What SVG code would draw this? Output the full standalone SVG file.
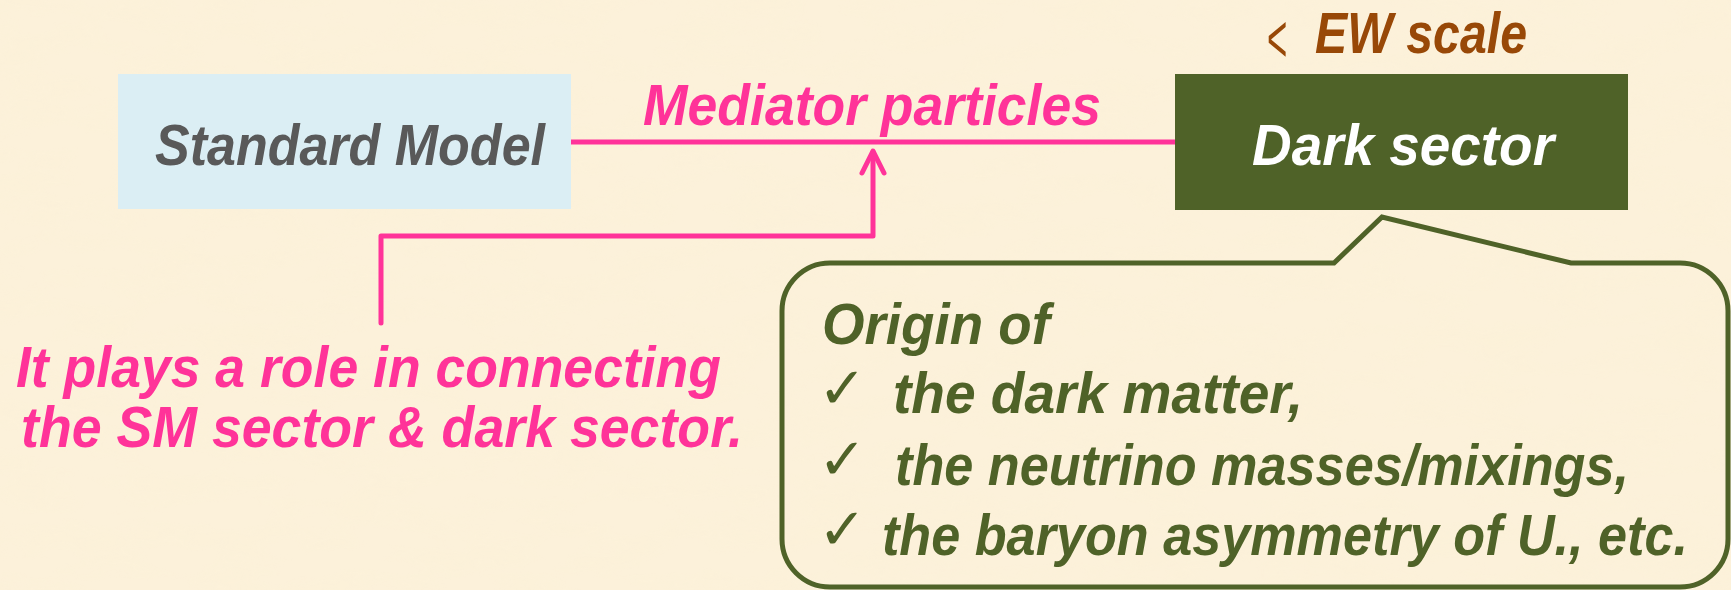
<svg xmlns="http://www.w3.org/2000/svg" width="1731" height="590" viewBox="0 0 1731 590">
  <defs>
    <filter id="paper" x="0" y="0" width="100%" height="100%">
      <feTurbulence type="fractalNoise" baseFrequency="0.015 0.04" numOctaves="3" seed="7"/>
      <feColorMatrix values="0 0 0 0 0.95  0 0 0 0 0.88  0 0 0 0 0.62  0.5 0 0 0 -0.2"/>
    </filter>
    <style>
      .t { font-family: "Liberation Sans", Arial, sans-serif; font-weight: bold; font-style: italic; font-size: 58px; }
      .pink { fill: #FF3399; }
      .green { fill: #4F6228; }
      .chk { font-family: "DejaVu Sans", sans-serif; font-size: 58px; fill: #4F6228; }
      .conn { fill: none; stroke: #FF3399; stroke-width: 5; stroke-linecap: round; stroke-linejoin: round; }
    </style>
  </defs>

  <rect x="0" y="0" width="1731" height="590" fill="#FCF1DA"/>
  <rect x="0" y="0" width="1731" height="590" filter="url(#paper)" opacity="0.45"/>

  <g id="standard-model">
    <rect x="118" y="74" width="453" height="135" fill="#DBEEF4"/>
    <text class="t" x="155" y="165" fill="#595959" font-size="60" textLength="390" lengthAdjust="spacingAndGlyphs">Standard Model</text>
  </g>

  <g id="dark-sector">
    <rect x="1175" y="74" width="453" height="136" fill="#4F6228"/>
    <text class="t" x="1252" y="165" fill="#FFFFFF" font-size="60" textLength="302" lengthAdjust="spacingAndGlyphs">Dark sector</text>
  </g>

  <g id="ew-scale">
    <text x="0" y="0" transform="translate(1267,62) scale(0.6,1.18)" font-family="Liberation Sans, sans-serif" font-size="58" fill="#984807">&lt;</text>
    <text class="t" x="1315" y="53" fill="#984807" font-size="58" textLength="212" lengthAdjust="spacingAndGlyphs">EW scale</text>
  </g>

  <g id="mediator-label">
    <text class="t pink" x="643" y="125" font-size="60" textLength="458" lengthAdjust="spacingAndGlyphs">Mediator particles</text>
  </g>

  <g id="connectors">
    <line x1="571" y1="142" x2="1175" y2="142" stroke="#FF3399" stroke-width="5"/>
    <path class="conn" d="M381,323 L381,236 L873,236 L873,152"/>
    <path class="conn" d="M862,173 L873,151 L884,173"/>
  </g>

  <g id="role-note">
    <text class="t pink" x="16" y="387" font-size="60" textLength="705" lengthAdjust="spacingAndGlyphs">It plays a role in connecting</text>
    <text class="t pink" x="21" y="447" font-size="60" textLength="722" lengthAdjust="spacingAndGlyphs">the SM sector &amp; dark sector.</text>
  </g>

  <g id="origin-callout">
    <path d="M830,263 L1334,263 L1382,217 L1571,263 L1680,263 A48,48 0 0 1 1728,311 L1728,539 A48,48 0 0 1 1680,587 L830,587 A48,48 0 0 1 782,539 L782,311 A48,48 0 0 1 830,263 Z" fill="none" stroke="#4F6228" stroke-width="5" stroke-linejoin="miter"/>
    <text class="t green" x="822" y="344" font-size="60" textLength="228" lengthAdjust="spacingAndGlyphs">Origin of</text>
    <text class="chk" x="818" y="408">✓</text>
    <text class="t green" x="893" y="413" font-size="60" textLength="410" lengthAdjust="spacingAndGlyphs">the dark matter,</text>
    <text class="chk" x="818" y="479">✓</text>
    <text class="t green" x="895" y="485" font-size="56" textLength="734" lengthAdjust="spacingAndGlyphs">the neutrino masses/mixings,</text>
    <text class="chk" x="818" y="549">✓</text>
    <text class="t green" x="882" y="555" font-size="55" textLength="806" lengthAdjust="spacingAndGlyphs">the baryon asymmetry of U., etc.</text>
  </g>
</svg>
